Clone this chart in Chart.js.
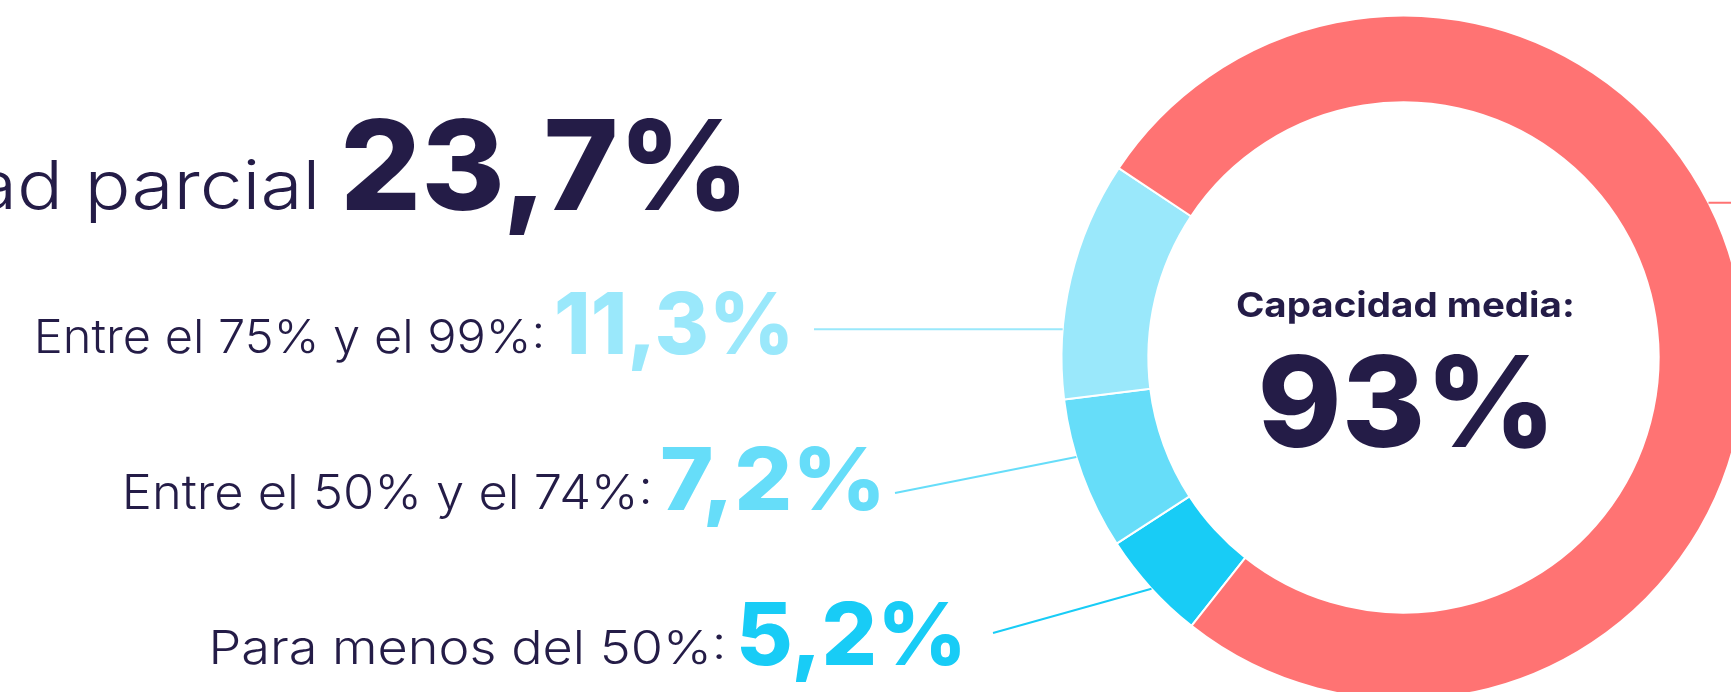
<!DOCTYPE html>
<html lang="es">
<head>
<meta charset="utf-8">
<title>Capacidad</title>
<script src="https://cdn.jsdelivr.net/npm/chart.js@4.4.1/dist/chart.umd.min.js"></script>
<style>
  html, body { margin: 0; padding: 0; width: 1731px; height: 692px; overflow: hidden; background: #ffffff; }
  #wrap { position: absolute; left: 0; top: 0; width: 1760px; height: 720px; }
</style>
</head>
<body>
<div id="wrap"><canvas id="c" width="1760" height="720"></canvas></div>
<script>
// ---------- DATA ----------
const categories = ['Para menos del 50%:', 'Entre el 50% y el 74%:', 'Entre el 75% y el 99%:', 'Al 100%:'];
const values = [5.2, 7.2, 11.3, 76.3];
const partialLabel = 'Capacidad parcial';
const centerLabel = 'Capacidad media:';
const averageCapacity = 93;

// ---------- STYLE ----------
const NAVY = '#241C47';
const colors = ['#18CCF6', '#66DDF9', '#9AE8FB', '#FF7373'];
const FONT = 'Inter, "Noto Sans", sans-serif';

const fmt = v => v.toFixed(1).replace('.', ',') + '%';
const partialTotal = values.slice(0, 3).reduce((a, b) => a + b, 0);

// layout of the labels on the left (glyph boxes)
const labelLayout = [
  { left: 213, right: 723, baseline: 664, capH: 34, nLeft: 740, nRight: 960, nCap: 63, line: { x: 993, frac: 0.49 } },
  { left: 126, right: 649, baseline: 509, capH: 35, nLeft: 662, nRight: 879, nCap: 63, line: { x: 895, frac: 0.62 } },
  { left: 38,  right: 542, baseline: 353, capH: 34, nLeft: 557, nRight: 788, nCap: 62, line: { x: 814, frac: 0.29 } },
  { line: { x: 1770, frac: 0.435 } }
];
const leaderStartY = [633, 493, null, null]; // null -> horizontal line

function drawFit(ctx, it) {
  ctx.save();
  ctx.font = `${it.weight} 100px ${FONT}`;
  const ref = ctx.measureText(it.ref || 'H');
  const size = 100 * it.capH / ref.actualBoundingBoxAscent;
  ctx.font = `${it.weight} ${size}px ${FONT}`;
  ctx.textAlign = 'left';
  ctx.textBaseline = 'alphabetic';
  const m = ctx.measureText(it.text);
  const gw = m.actualBoundingBoxLeft + m.actualBoundingBoxRight;
  const sx = it.width ? it.width / gw : (it.sx || 1);
  let left;
  if (it.left != null) left = it.left;
  else if (it.right != null) left = it.right - gw * sx;
  else left = it.cx - gw * sx / 2;
  ctx.translate(left, it.baseline);
  ctx.scale(sx, 1);
  ctx.fillStyle = it.color;
  ctx.fillText(it.text, m.actualBoundingBoxLeft, 0);
  ctx.restore();
  return sx;
}

const overlay = {
  id: 'overlay',
  afterDatasetsDraw(chart) {
    const ctx = chart.ctx;
    const meta = chart.getDatasetMeta(0);
    // leader lines
    meta.data.forEach((arc, i) => {
      const L = labelLayout[i].line;
      const p = arc.getProps(['x', 'y', 'startAngle', 'endAngle', 'outerRadius'], true);
      const a = p.startAngle + L.frac * (p.endAngle - p.startAngle);
      const ex = p.x + p.outerRadius * Math.cos(a);
      const ey = p.y + p.outerRadius * Math.sin(a);
      const sy = leaderStartY[i] == null ? ey : leaderStartY[i];
      ctx.save();
      ctx.strokeStyle = colors[i];
      ctx.lineWidth = 2;
      ctx.beginPath();
      ctx.moveTo(L.x, sy);
      ctx.lineTo(ex, ey);
      ctx.stroke();
      ctx.restore();
    });
    // labels on the left
    let sxRef = 1;
    for (let i = 0; i < 3; i++) {
      const Ly = labelLayout[i];
      const s = drawFit(ctx, { text: categories[i], weight: 300, capH: Ly.capH, left: Ly.left, width: Ly.right - Ly.left, baseline: Ly.baseline, color: NAVY });
      if (i === 2) sxRef = s;
      drawFit(ctx, { text: fmt(values[i]), weight: 800, capH: Ly.nCap, left: Ly.nLeft, width: Ly.nRight - Ly.nLeft, baseline: Ly.baseline + 1, color: colors[i] });
    }
    // partial total row
    drawFit(ctx, { text: partialLabel, weight: 300, capH: 49, ref: 'l', right: 315, sx: sxRef * 1.09, baseline: 209, color: NAVY });
    drawFit(ctx, { text: fmt(partialTotal), weight: 800, capH: 91, left: 345, width: 395, baseline: 210, color: NAVY });
    // centre
    const c = meta.data[0];
    drawFit(ctx, { text: centerLabel, weight: 700, capH: 25, cx: c.x + 1, width: 335, baseline: 317, color: NAVY });
    drawFit(ctx, { text: averageCapacity + '%', weight: 800, capH: 92, cx: c.x + 1, width: 284, baseline: 447, color: NAVY });
  }
};

new Chart(document.getElementById('c'), {
  type: 'doughnut',
  data: {
    labels: categories,
    datasets: [{
      data: values,
      backgroundColor: colors,
      borderColor: '#ffffff',
      borderWidth: 2,
      hoverOffset: 0
    }]
  },
  options: {
    responsive: false,
    animation: false,
    rotation: 218.3,
    radius: 342,
    cutout: '74.6%',
    layout: { padding: { left: 1062, top: 16, right: 15, bottom: 21 } },
    plugins: { legend: { display: false }, tooltip: { enabled: false } },
    events: []
  },
  plugins: [overlay]
});
</script>
</body>
</html>
